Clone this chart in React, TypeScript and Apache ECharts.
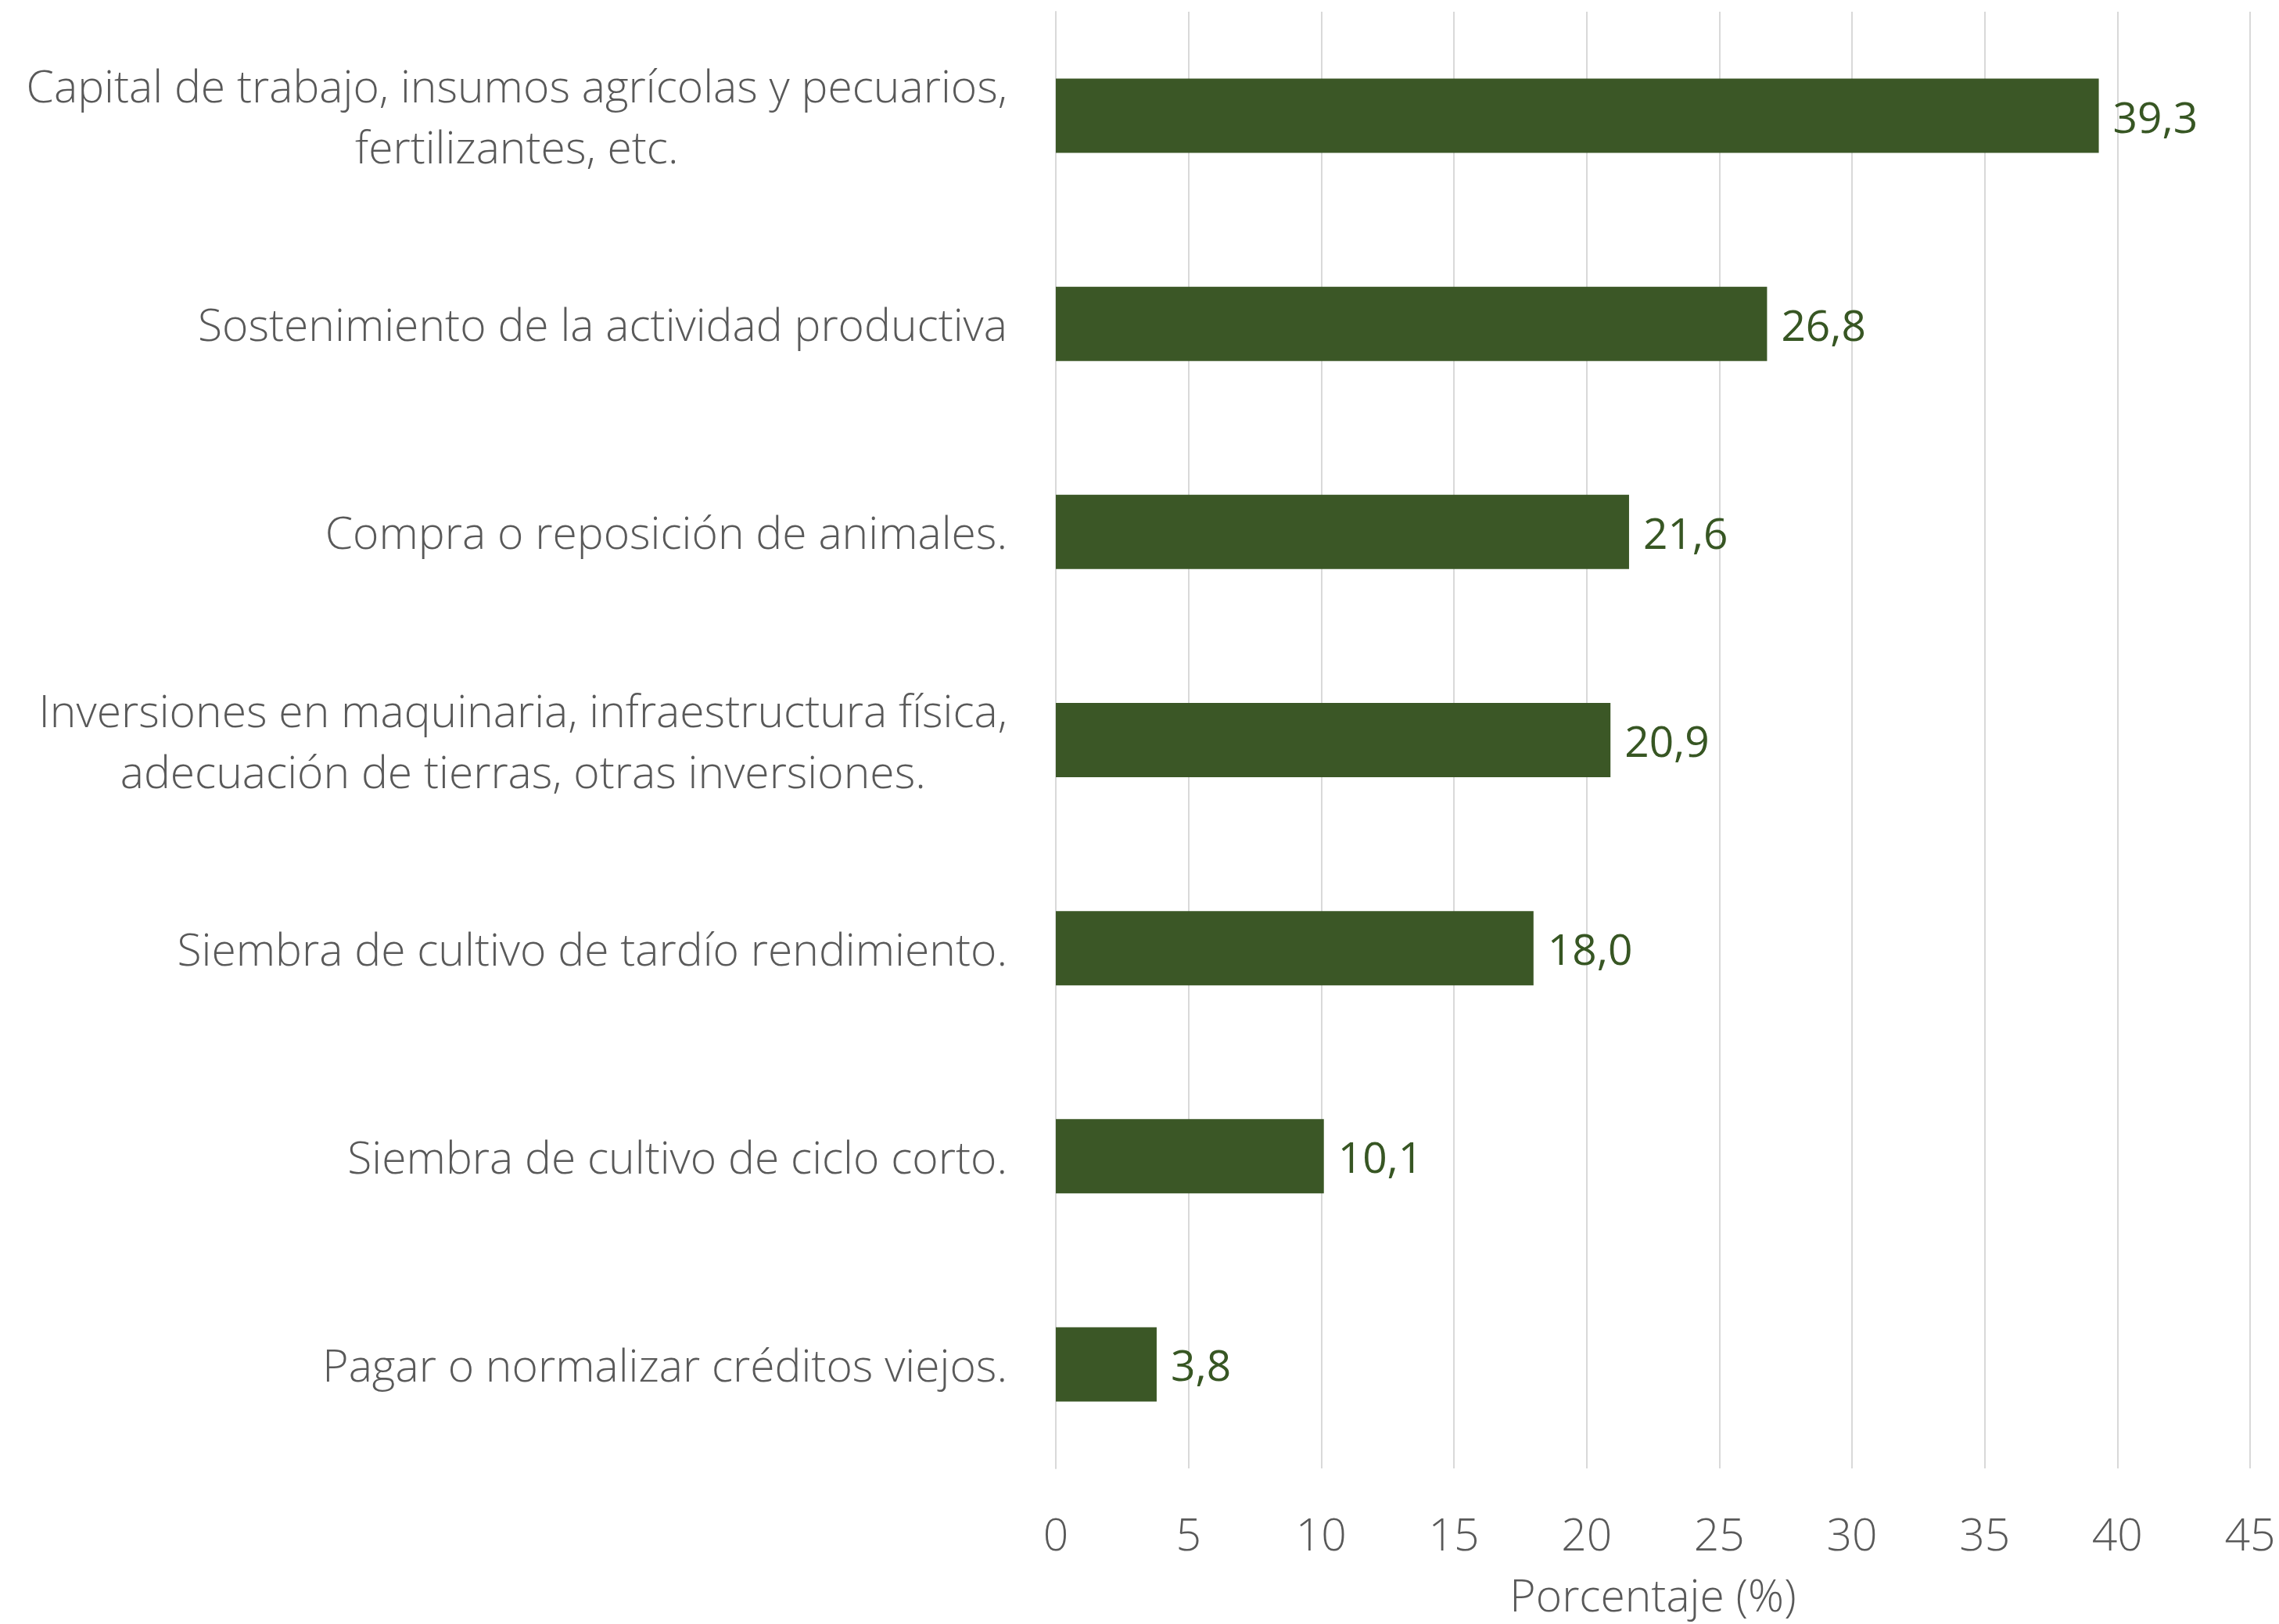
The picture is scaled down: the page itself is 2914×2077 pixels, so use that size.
import React, { useEffect, useRef } from "react";
import * as echarts from "echarts";

const categories: string[] = [
  "Capital de trabajo, insumos agrícolas y pecuarios,\nfertilizantes, etc.",
  "Sostenimiento de la actividad productiva",
  "Compra o reposición de animales.",
  "Inversiones en maquinaria, infraestructura física,\nadecuación de tierras, otras inversiones.",
  "Siembra de cultivo de tardío rendimiento.",
  "Siembra de cultivo de ciclo corto.",
  "Pagar o normalizar créditos viejos.",
];
const values: number[] = [39.3, 26.8, 21.6, 20.9, 18.0, 10.1, 3.8];
const xTicks = { min: 0, max: 45, interval: 5 };
const axisTitle = "Porcentaje (%)";

const FONT = "'Open Sans', 'Noto Sans', sans-serif";

export default function App() {
  const ref = useRef<HTMLDivElement>(null);
  useEffect(() => {
    if (!ref.current) return;
    const chart = echarts.init(ref.current, null, { renderer: "svg" });
    chart.setOption({
      animation: false,
      backgroundColor: "#ffffff",
      grid: { left: 1350, right: 37, top: 15, bottom: 197, containLabel: false },
      xAxis: {
        type: "value",
        min: xTicks.min,
        max: xTicks.max,
        interval: xTicks.interval,
        name: axisTitle,
        nameLocation: "middle",
        nameGap: 128,
        nameTextStyle: { color: "#595959", fontSize: 57, fontFamily: FONT, fontWeight: 300, lineHeight: 66 },
        axisLine: { show: false },
        axisTick: { show: false },
        axisLabel: { color: "#595959", fontSize: 57, fontFamily: FONT, fontWeight: 300, margin: 54 },
        splitLine: { show: true, lineStyle: { color: "#D9D9D9", width: 2 } },
      },
      yAxis: {
        type: "category",
        data: categories,
        inverse: true,
        axisLine: { show: true, lineStyle: { color: "#D9D9D9", width: 2 } },
        axisTick: { show: false },
        axisLabel: {
          margin: 62,
          align: "right",
          formatter: (v: string) => v.split("\n").map((l) => `{c|${l}}`).join("\n"),
          rich: {
            c: {
              align: "center",
              color: "#595959",
              fontSize: 57,
              fontFamily: FONT,
              fontWeight: 300,
              lineHeight: 78,
            },
          },
        },
      },
      series: [
        {
          type: "bar",
          data: values,
          barWidth: 95,
          itemStyle: { color: "#3B5726" },
          label: {
            show: true,
            position: "right",
            distance: 18,
            color: "#375623",
            fontSize: 55,
            fontFamily: FONT,
            formatter: (p: any) => Number(p.value).toFixed(1).replace(".", ","),
          },
        },
      ],
    });
    return () => chart.dispose();
  }, []);
  return (
    <div
      ref={ref}
      style={{ position: "fixed", left: 0, top: 0, width: 2914, height: 2077, background: "#fff" }}
    />
  );
}
